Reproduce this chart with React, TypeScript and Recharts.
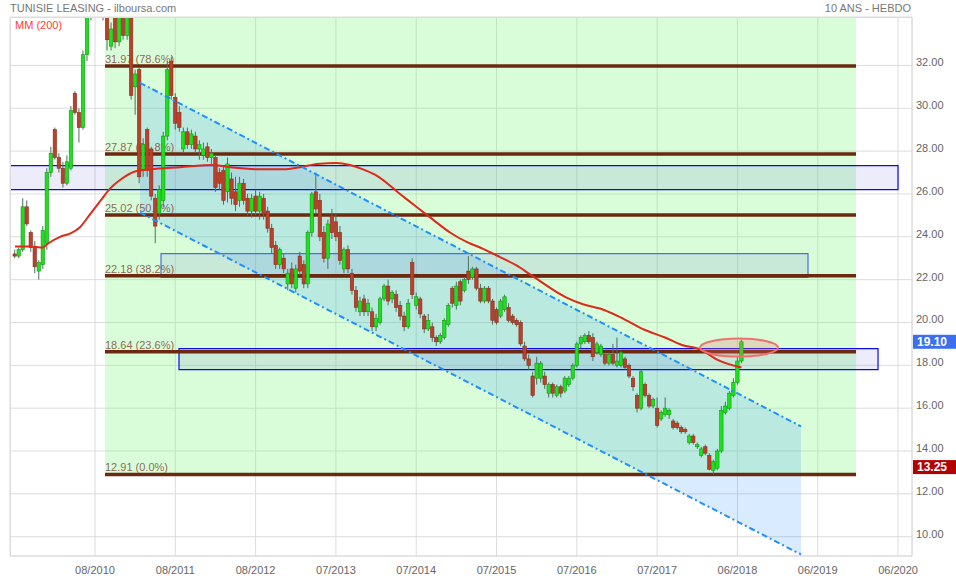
import React from 'react';
import {
  ComposedChart,
  XAxis,
  YAxis,
  CartesianGrid,
  Bar,
  Line,
  Area,
  ReferenceArea,
  ReferenceLine,
  ReferenceDot,
} from 'recharts';

// time is counted in years from the 08/2010 tick
const xTicks = [0, 1, 2, 3, 4, 5, 6, 7, 8, 9, 10];
const xTickLabels = [
  '08/2010', '08/2011', '08/2012', '07/2013', '07/2014', '07/2015',
  '07/2016', '07/2017', '06/2018', '06/2019', '06/2020',
];
const yTicks = [10, 12, 14, 16, 18, 20, 22, 24, 26, 28, 30, 32];
const X_MIN = -1.0585;
const X_MAX = 10.174;
const Y_MIN = 9.1;
const Y_MAX = 34.26;

// weekly-ish candles (open, high, low, close), one every 0.05 year
const FIRST_CANDLE = -1.0;
const CANDLE_STEP = 0.05;
const candles: [number, number, number, number][] = [
  [23.2, 23.4, 23.0, 23.1], [23.1, 23.5, 23.0, 23.4], [23.4, 25.8, 23.3, 25.4], [25.4, 25.7, 24.5, 24.6],
  [24.2, 24.3, 23.3, 23.5], [23.5, 23.8, 22.3, 22.6], [22.4, 22.9, 22.0, 22.8], [22.7, 24.5, 22.5, 24.3],
  [23.7, 27.2, 23.4, 27.0], [27.0, 28.2, 26.8, 27.9], [29.0, 29.1, 27.6, 27.7], [27.7, 27.9, 27.0, 27.2],
  [27.2, 27.5, 26.3, 26.5], [26.5, 27.8, 26.4, 27.5], [27.2, 30.1, 27.1, 29.9], [30.7, 30.8, 29.7, 29.8],
  [29.8, 30.0, 28.4, 29.1], [29.1, 32.7, 29.0, 32.5], [32.5, 35.2, 32.2, 35.0], [34.8, 36.4, 34.1, 36.0],
  [36.0, 37.16, 34.7, 36.7], [36.7, 37.1, 34.5, 35.4], [35.2, 36.6, 34.1, 36.1], [35.7, 36.2, 32.7, 33.2],
  [32.9, 34.0, 32.7, 33.7], [34.7, 35.2, 32.8, 33.1], [33.1, 34.8, 32.9, 34.5], [34.6, 35.2, 33.2, 33.4],
  [33.4, 35.0, 33.2, 34.5], [34.7, 35.0, 30.4, 30.6], [31.0, 31.8, 29.7, 31.6], [31.8, 31.9, 26.5, 26.8],
  [27.1, 28.6, 26.8, 28.3], [29.0, 29.1, 26.8, 27.1], [28.1, 28.2, 25.7, 25.9], [25.8, 26.0, 23.7, 24.5],
  [25.1, 26.4, 24.8, 26.2], [25.7, 28.9, 25.4, 28.7], [28.7, 32.2, 28.5, 31.8], [32.2, 32.4, 30.4, 30.6],
  [30.5, 30.7, 29.0, 29.3], [29.8, 30.1, 28.9, 29.1], [28.1, 29.1, 27.9, 28.9], [28.9, 29.1, 28.1, 28.3],
  [28.3, 29.0, 28.1, 28.8], [28.7, 28.9, 27.9, 28.1], [28.1, 28.5, 27.6, 28.3], [27.8, 28.4, 27.6, 28.1],
  [28.2, 28.4, 27.5, 27.7], [27.7, 28.1, 27.4, 27.9], [27.7, 27.8, 26.1, 26.3], [27.0, 27.2, 26.2, 26.5],
  [27.1, 27.3, 25.5, 25.7], [26.1, 27.7, 25.6, 27.4], [26.7, 27.0, 25.5, 25.8], [26.1, 26.8, 25.2, 25.5],
  [25.7, 26.8, 25.4, 26.5], [26.5, 26.7, 25.5, 25.7], [25.8, 26.0, 25.0, 25.2], [25.2, 26.0, 24.9, 25.8],
  [25.9, 26.2, 25.0, 25.2], [25.2, 26.1, 24.8, 25.9], [25.8, 26.0, 24.8, 25.1], [25.2, 25.4, 24.2, 24.4],
  [24.4, 24.6, 23.2, 23.5], [23.6, 23.8, 22.5, 22.7], [22.7, 23.5, 22.5, 23.4], [23.0, 23.2, 22.3, 22.5],
  [21.8, 22.5, 21.5, 22.3], [22.5, 22.8, 21.6, 21.8], [21.6, 22.7, 21.4, 22.5], [23.1, 23.3, 22.2, 22.4],
  [22.7, 22.9, 21.6, 21.8], [21.8, 24.3, 21.6, 24.2], [24.2, 26.1, 24.0, 26.0], [26.1, 27.0, 25.1, 25.3],
  [25.7, 26.0, 23.8, 24.0], [24.2, 24.5, 22.8, 23.0], [23.0, 24.8, 22.5, 24.6], [25.0, 25.3, 23.9, 24.2],
  [24.7, 25.1, 23.8, 24.0], [24.2, 24.5, 22.7, 22.9], [22.5, 23.5, 22.3, 23.4], [23.4, 23.6, 22.3, 22.5],
  [22.3, 22.5, 21.3, 21.5], [21.5, 21.7, 20.5, 20.7], [20.5, 21.2, 20.3, 21.0], [21.1, 21.3, 20.3, 20.5],
  [20.5, 21.1, 20.3, 20.9], [20.5, 20.7, 19.6, 19.8], [19.8, 20.4, 19.6, 20.2], [20.0, 21.2, 19.9, 21.1],
  [21.1, 21.8, 21.0, 21.7], [21.7, 22.0, 20.8, 21.0], [21.1, 21.5, 20.9, 21.4], [21.3, 21.5, 20.5, 20.7],
  [20.8, 21.0, 20.1, 20.3], [20.3, 20.5, 19.6, 19.8], [19.8, 21.1, 19.7, 20.9], [22.8, 23.0, 21.1, 21.3],
  [20.8, 21.4, 20.6, 21.2], [21.1, 21.2, 20.2, 20.4], [20.3, 20.4, 19.5, 19.7], [19.7, 20.4, 19.6, 20.1],
  [19.8, 20.0, 19.1, 19.3], [19.3, 19.4, 18.9, 19.1], [19.1, 19.5, 19.0, 19.4], [19.3, 20.2, 19.2, 20.1],
  [19.9, 20.9, 19.8, 20.8], [21.6, 21.7, 20.7, 20.9], [20.8, 21.9, 20.6, 21.7], [21.9, 22.0, 20.8, 21.0],
  [21.5, 22.1, 21.4, 22.0], [22.4, 23.1, 21.8, 22.0], [22.1, 22.6, 22.0, 22.5], [22.5, 22.6, 21.5, 21.6],
  [21.6, 21.8, 20.9, 21.0], [21.0, 21.7, 20.9, 21.6], [21.6, 21.7, 20.9, 21.0], [21.0, 21.1, 19.9, 20.1],
  [20.6, 20.7, 19.9, 20.0], [20.3, 21.1, 20.2, 21.0], [20.6, 21.3, 20.5, 21.2], [20.7, 20.9, 20.0, 20.1],
  [20.3, 20.4, 19.9, 20.0], [20.1, 20.2, 19.8, 19.9], [20.0, 20.1, 18.9, 19.0], [18.9, 19.1, 18.2, 18.3],
  [18.3, 18.5, 17.8, 18.0], [17.5, 17.7, 16.5, 16.6], [17.4, 18.4, 17.1, 18.1], [17.4, 18.2, 17.2, 18.1],
  [17.5, 17.7, 16.9, 17.1], [16.7, 17.2, 16.5, 17.1], [17.1, 17.2, 16.5, 16.7], [16.6, 17.1, 16.5, 17.0],
  [17.0, 17.1, 16.5, 16.7], [16.8, 17.5, 16.7, 17.4], [17.1, 17.5, 17.0, 17.4], [17.4, 18.1, 17.3, 18.0],
  [18.0, 19.1, 17.9, 19.0], [19.0, 19.4, 18.8, 19.3], [19.1, 19.5, 19.0, 19.4], [19.4, 19.6, 19.0, 19.1],
  [19.3, 19.5, 18.2, 18.4], [18.6, 19.1, 18.5, 19.0], [18.5, 19.0, 18.4, 18.9], [18.5, 18.6, 18.0, 18.1],
  [18.1, 18.6, 18.0, 18.5], [18.5, 19.0, 18.0, 18.1], [18.0, 19.3, 17.9, 18.2], [18.0, 18.7, 17.9, 18.6],
  [18.3, 18.4, 17.8, 17.9], [18.0, 18.1, 17.4, 17.5], [17.4, 17.5, 16.8, 17.0], [16.6, 16.7, 15.8, 16.0],
  [16.0, 17.8, 15.9, 17.7], [17.1, 17.2, 16.5, 16.6], [16.6, 16.7, 16.0, 16.1], [16.1, 16.5, 16.0, 16.4],
  [16.0, 16.5, 15.1, 15.2], [15.5, 15.9, 15.4, 15.8], [15.7, 16.5, 15.6, 16.0], [15.7, 16.0, 15.5, 15.9],
  [15.4, 15.5, 15.0, 15.1], [15.3, 15.4, 15.0, 15.1], [15.1, 15.2, 14.8, 14.9], [15.0, 15.1, 14.8, 14.9],
  [14.4, 14.8, 14.3, 14.7], [14.7, 14.8, 14.3, 14.4], [14.2, 14.4, 14.1, 14.3], [13.8, 14.2, 13.7, 14.1],
  [14.2, 14.3, 13.8, 13.9], [13.8, 13.9, 13.1, 13.15], [13.1, 13.6, 12.91, 13.5], [13.2, 14.1, 13.1, 14.0],
  [14.0, 16.1, 13.9, 15.9], [15.8, 16.3, 15.7, 16.1], [16.0, 16.8, 15.9, 16.7], [16.6, 17.4, 16.5, 17.2],
  [17.2, 18.4, 17.1, 18.2], [18.2, 19.2, 18.1, 19.1],
];

// moving average 200
const maDates = [
  -0.996, -0.809, -0.648, -0.598, -0.436, -0.311, -0.187, -0.062, 0.062, 0.187, 0.311,
  0.498, 0.685, 1.059, 1.469, 1.681, 2.055, 2.341, 2.553, 2.765, 3.014, 3.176, 3.337,
  3.487, 3.798, 3.985, 4.209, 4.421, 4.633, 4.795, 5.044, 5.255, 5.455, 5.878, 6.077,
  6.289, 6.538, 6.849, 7.098, 7.31, 7.534, 7.746, 8.05,
];
const maValues = [
  23.55, 23.55, 23.5, 23.65, 24.0, 24.15, 24.45, 25.05, 25.65, 26.25, 26.65,
  27.05, 27.15, 27.25, 27.35, 27.25, 27.15, 27.15, 27.25, 27.4, 27.45, 27.35, 27.15,
  26.9, 26.0, 25.45, 24.8, 24.2, 23.75, 23.5, 23.05, 22.65, 22.15, 21.15, 20.85,
  20.65, 20.25, 19.65, 19.3, 18.95, 18.75, 18.27, 17.9,
];

// fibonacci retracement
const fibValues = [31.97, 27.87, 25.02, 22.18, 18.64, 12.91];
const fibRatios = ['78.6%', '61.8%', '50.0%', '38.2%', '23.6%', '0.0%'];
const FIB_FROM = 0.1245;
const FIB_TO = 9.477;

// descending channel
const channelDates = [0.56, 8.792];
const channelUpper = [31.19, 15.15];
const channelLower = [25.13, 9.17];

// horizontal zones
const zoneFrom = [X_MIN, 0.822, 1.046];
const zoneTo = [10.0, 8.879, 9.751];
const zoneLow = [26.2, 22.1, 17.8];
const zoneHigh = [27.32, 23.21, 18.78];

const lastClose = 19.1;
const lowMark = 13.25;
const breakoutDate = 8.02;
const breakoutLevel = 18.83;

const candleRows = candles.map(([o, h, l, c], i) => ({
  t: FIRST_CANDLE + i * CANDLE_STEP,
  range: [l, h],
  o, h, l, c,
}));
const maRows = maDates.map((t, i) => ({ t, ma: maValues[i] }));
const channelRows = channelDates.map((t, i) => ({
  t,
  band: [channelLower[i], channelUpper[i]],
  upper: channelUpper[i],
  lower: channelLower[i],
}));

const FONT = '"Liberation Sans", Arial, sans-serif';
const BODY_W = 3.4;

function Candle(props: any) {
  const { x, y, width, height, payload } = props;
  if (!payload || x == null) return null;
  const { o, h, l, c } = payload;
  const top = Math.min(y, y + height);
  const span = Math.abs(height);
  const k = h - l > 0 ? span / (h - l) : 0;
  const yOf = (v: number) => top + (h - v) * k;
  const cx = x + width / 2;
  const up = c >= o;
  const bTop = yOf(Math.max(o, c));
  const bBot = yOf(Math.min(o, c));
  return (
    <g>
      <line x1={cx} x2={cx} y1={top} y2={top + span} stroke="#50705c" strokeWidth={1} />
      <rect
        x={cx - BODY_W / 2}
        y={bTop}
        width={BODY_W}
        height={Math.max(1, bBot - bTop)}
        fill={up ? '#1fe01f' : '#b8412b'}
        stroke={up ? '#139a13' : '#8a2e1e'}
        strokeWidth={0.6}
      />
    </g>
  );
}

function FibLabel({ viewBox, text }: any) {
  if (!viewBox) return null;
  return (
    <text
      x={viewBox.x}
      y={viewBox.y - 3}
      fontSize={11}
      fontFamily={FONT}
      fill="#7d3d2f"
      fillOpacity={0.8}
    >
      {text}
    </text>
  );
}

function PriceTag({ viewBox, text, color }: any) {
  if (!viewBox) return null;
  const x = viewBox.x + viewBox.width + 1;
  return (
    <g>
      <rect x={x} y={viewBox.y - 7} width={44} height={14} fill={color} />
      <text
        x={x + 4}
        y={viewBox.y}
        dy="0.36em"
        fontSize={12}
        fontWeight="bold"
        fontFamily={FONT}
        fill="#fff"
      >
        {text}
      </text>
    </g>
  );
}

function Breakout({ cx, cy }: any) {
  if (cx == null) return null;
  return (
    <ellipse
      cx={cx}
      cy={cy}
      rx={39}
      ry={9}
      fill="rgba(235,110,100,0.25)"
      stroke="#f07070"
      strokeWidth={2}
    />
  );
}

function YTick({ x, y, payload }: any) {
  return (
    <text x={x} y={y - 3} dy="0.355em" textAnchor="start" fontSize={11} fontFamily={FONT} fill="#666">
      {Number(payload.value).toFixed(2)}
    </text>
  );
}

export default function App() {
  return (
    <div
      style={{
        position: 'absolute',
        left: 0,
        top: 0,
        width: 956,
        height: 580,
        background: '#fff',
        fontFamily: FONT,
      }}
    >
      <ComposedChart
        width={956}
        height={580}
        data={candleRows}
        margin={{ top: 17, right: 0, bottom: 0, left: 10 }}
      >
        <CartesianGrid stroke="#dcdcdc" />
        <XAxis
          dataKey="t"
          type="number"
          domain={[X_MIN, X_MAX]}
          allowDataOverflow
          ticks={xTicks}
          interval={0}
          height={24}
          tickLine={false}
          tickMargin={4}
          axisLine={{ stroke: '#dcdcdc' }}
          tick={{ fontSize: 11, fill: '#666', fontFamily: FONT }}
          tickFormatter={(v: number) => xTickLabels[v] ?? ''}
        />
        <YAxis
          orientation="right"
          type="number"
          domain={[Y_MIN, Y_MAX]}
          allowDataOverflow
          ticks={yTicks}
          interval={0}
          width={44}
          tickLine={false}
          tickSize={2}
          tickMargin={2}
          axisLine={{ stroke: '#dcdcdc' }}
          tick={<YTick />}
        />
        <ReferenceArea
          x1={FIB_FROM}
          x2={FIB_TO}
          y1={fibValues[fibValues.length - 1]}
          y2={Y_MAX}
          fill="#80f580"
          fillOpacity={0.3}
          stroke="none"
          ifOverflow="hidden"
          zIndex={10}
        />
        <Area
          data={channelRows}
          dataKey="band"
          type="linear"
          stroke="none"
          fill="#1e90ff"
          fillOpacity={0.17}
          isAnimationActive={false}
          activeDot={false}
          zIndex={20}
        />
        {zoneFrom.map((x1, i) => (
          <ReferenceArea
            key={`zone-${i}`}
            x1={x1}
            x2={zoneTo[i]}
            y1={zoneLow[i]}
            y2={zoneHigh[i]}
            fill="#4040dc"
            fillOpacity={0.1}
            stroke={i === 1 ? '#4a6fe0' : '#0a0aee'}
            strokeWidth={1.2}
            ifOverflow="hidden"
            zIndex={30}
          />
        ))}
        {fibValues.map((v, i) => (
          <ReferenceLine
            key={`fib-${i}`}
            segment={[
              { x: FIB_FROM, y: v },
              { x: FIB_TO, y: v },
            ]}
            stroke="#6b2a10"
            strokeWidth={3.5}
            zIndex={40}
            label={(p: any) => (
              <FibLabel viewBox={p.viewBox} text={`${v.toFixed(2)}  (${fibRatios[i]})`} />
            )}
          />
        ))}
        <Bar
          dataKey="range"
          barSize={3}
          shape={<Candle />}
          isAnimationActive={false}
          zIndex={50}
        />
        <Line
          data={maRows}
          dataKey="ma"
          type="monotone"
          stroke="#dd2a1a"
          strokeWidth={2}
          dot={false}
          activeDot={false}
          isAnimationActive={false}
          zIndex={60}
        />
        <Line
          data={channelRows}
          dataKey="upper"
          type="linear"
          stroke="#1e8fff"
          strokeWidth={2}
          strokeDasharray="6 3 2 3"
          dot={false}
          activeDot={false}
          isAnimationActive={false}
          zIndex={70}
        />
        <Line
          data={channelRows}
          dataKey="lower"
          type="linear"
          stroke="#1e8fff"
          strokeWidth={2}
          strokeDasharray="6 3 2 3"
          dot={false}
          activeDot={false}
          isAnimationActive={false}
          zIndex={70}
        />
        <ReferenceDot
          x={breakoutDate}
          y={breakoutLevel}
          r={9}
          shape={<Breakout />}
          zIndex={80}
        />
        <ReferenceLine
          y={lastClose}
          stroke="none"
          zIndex={90}
          label={(p: any) => <PriceTag viewBox={p.viewBox} text={lastClose.toFixed(2)} color="#3b6ff0" />}
        />
        <ReferenceLine
          y={lowMark}
          stroke="none"
          zIndex={90}
          label={(p: any) => <PriceTag viewBox={p.viewBox} text={lowMark.toFixed(2)} color="#b30000" />}
        />
      </ComposedChart>
      <div
        style={{
          position: 'absolute',
          left: 10,
          top: 17,
          width: 902,
          height: 539,
          borderTop: '1px solid #dcdcdc',
          borderLeft: '1px solid #dcdcdc',
          boxSizing: 'border-box',
          pointerEvents: 'none',
        }}
      />
      <div style={{ position: 'absolute', left: 10, top: 2, fontSize: 11, color: '#777' }}>
        TUNISIE LEASING - ilboursa.com
      </div>
      <div style={{ position: 'absolute', right: 45, top: 2, fontSize: 11, color: '#777' }}>
        10 ANS - HEBDO
      </div>
      <div style={{ position: 'absolute', left: 15, top: 19, fontSize: 11, color: '#ff3b3b' }}>
        MM (200)
      </div>
    </div>
  );
}
